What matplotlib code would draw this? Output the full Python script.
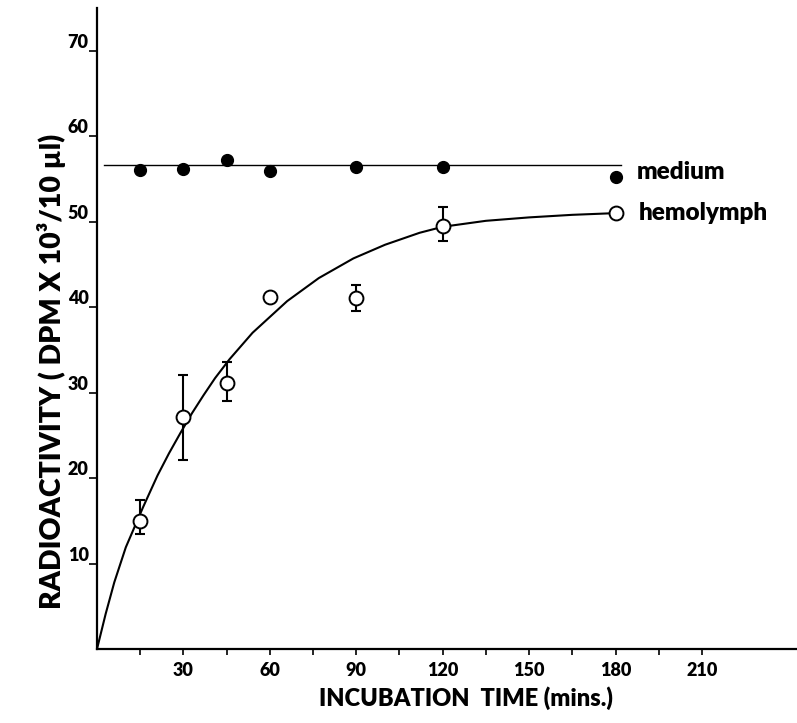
import matplotlib
matplotlib.use('Agg')
import matplotlib.pyplot as plt
import numpy as np

plt.rcParams['font.family'] = ['Lato', 'DejaVu Sans']
plt.rcParams['font.weight'] = 'heavy'

# Sampling times (mins.)
times = [15, 30, 45, 60, 90, 120, 180]

# Medium: filled circles around a constant level
medium = [56.1, 56.2, 57.2, 55.9, 56.4, 56.4, 55.2]
medium_level = 56.6
medium_span = [2.5, 182]

# Hemolymph: open circles with error bars (None = no bar)
hemolymph = [15.0, 27.1, 31.1, 41.2, 41.1, 49.5, 51.0]
hemo_low = [13.5, 22.1, 29.0, None, 39.5, 47.7, None]
hemo_high = [17.4, 32.1, 33.6, None, 42.6, 51.7, None]

# Uptake curve for the hemolymph
curve_t = [0, 3, 6, 10, 16, 21, 25, 29, 33, 37, 41, 46, 54, 66, 77, 89, 100, 112,
           120, 135, 150, 165, 180]
curve_v = [0, 4.1, 7.8, 11.9, 16.6, 20.3, 22.9, 25.3, 27.6, 29.7, 31.7, 33.9, 37.0,
           40.7, 43.4, 45.7, 47.3, 48.7, 49.4, 50.1, 50.5, 50.8, 51.0]

x_ticks = [15, 30, 45, 60, 75, 90, 105, 120, 135, 150, 165, 180, 195, 210]
y_ticks = [10, 20, 30, 40, 50, 60, 70]

fig = plt.figure(figsize=(7.97, 7.23), dpi=100)
ax = fig.add_axes([97 / 797, 74 / 723, 700 / 797, 641 / 723])

# medium
ax.plot(medium_span, [medium_level, medium_level], color='black', lw=1.0, zorder=2)
ax.plot(times, medium, 'o', color='black', ms=8.5, zorder=4)

# hemolymph
ax.plot(curve_t, curve_v, color='black', lw=1.5, zorder=2)
for t, lo, hi in zip(times, hemo_low, hemo_high):
    if lo is None:
        continue
    ax.errorbar([t], [(lo + hi) / 2], yerr=[[(hi - lo) / 2], [(hi - lo) / 2]],
                fmt='none', ecolor='black', elinewidth=1.5, capsize=3.5,
                capthick=1.5, zorder=3)
ax.plot(times, hemolymph, 'o', mfc='white', mec='black', mew=1.4, ms=10, zorder=4)

ax.text(187.5, 55.8, 'medium', fontsize=17.5, fontweight='heavy', va='center', ha='left')
ax.text(188.0, 51.0, 'hemolymph', fontsize=17.5, fontweight='heavy', va='center', ha='left')

ax.set_xlim(0, 243)
ax.set_ylim(0, 75)
ax.spines['top'].set_visible(False)
ax.spines['right'].set_visible(False)
ax.spines['left'].set_linewidth(1.6)
ax.spines['bottom'].set_linewidth(1.6)

ax.set_xticks(x_ticks)
ax.set_xticklabels([str(t) if t % 30 == 0 else '' for t in x_ticks])
ax.set_yticks(y_ticks)
ax.set_yticklabels([str(v) for v in y_ticks])
ax.tick_params(axis='x', direction='out', length=4, width=1.2, pad=5, labelsize=13)
ax.tick_params(axis='y', direction='out', length=6, width=1.2, pad=0, labelsize=13)
for lab in ax.get_yticklabels():
    lab.set_verticalalignment('bottom')
    lab.set_fontweight('heavy')
for lab in ax.get_xticklabels():
    lab.set_fontweight('heavy')

fig.text(0.585, 0.035, 'INCUBATION  TIME (mins.)', fontsize=17, fontweight='heavy',
         ha='center', va='center')
fig.text(0.065, 0.487, 'RADIOACTIVITY ( DPM X 10\u00b3/10 \u00b5l)', fontsize=20.5,
         fontweight='heavy', rotation=90, ha='center', va='center')

fig.savefig('out.png', dpi=100)
